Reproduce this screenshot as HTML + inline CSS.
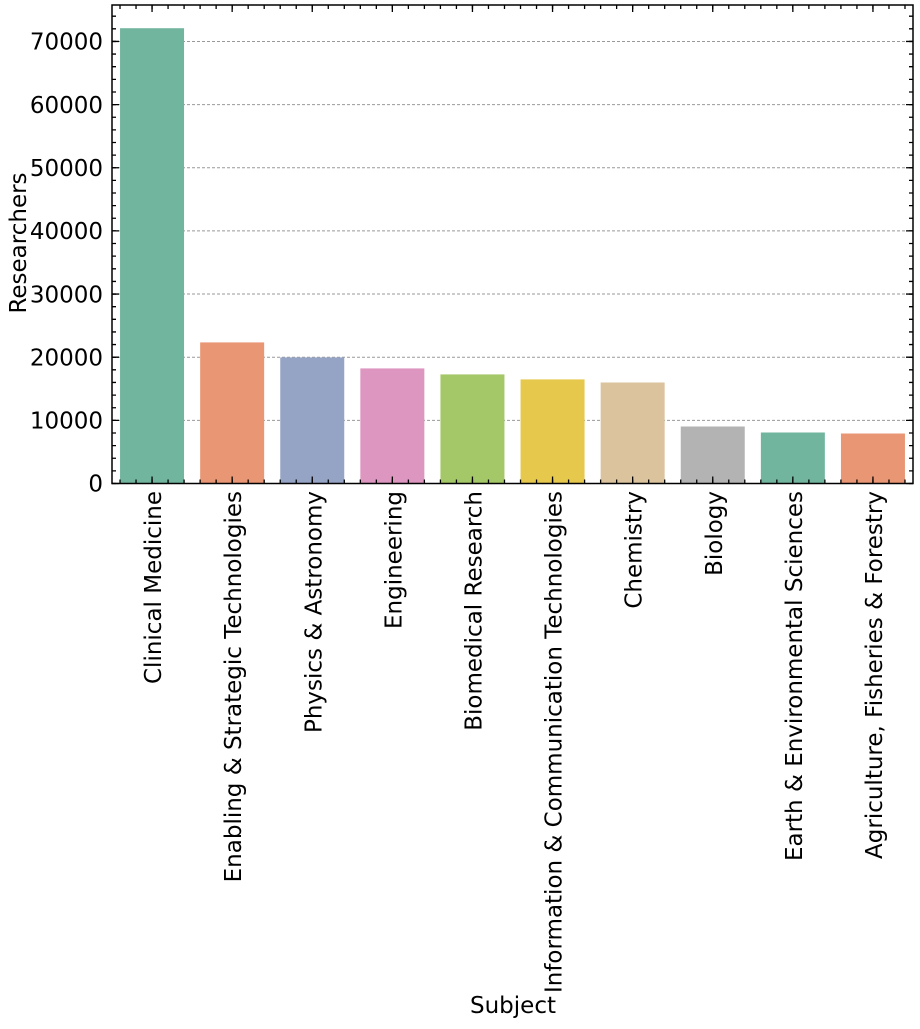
<!DOCTYPE html>
<html><head><meta charset="utf-8"><style>
html,body{margin:0;padding:0;background:#fff;}
svg text{font-family:"DejaVu Sans","Liberation Sans",sans-serif;fill:#000;}
</style></head><body>
<svg width="920" height="1024" viewBox="0 0 920 1024" xmlns="http://www.w3.org/2000/svg">
<g stroke="#999" stroke-width="1" stroke-dasharray="3,2">
<line x1="112" x2="913" y1="420.35" y2="420.35"/>
<line x1="112" x2="913" y1="357.2" y2="357.2"/>
<line x1="112" x2="913" y1="294.05" y2="294.05"/>
<line x1="112" x2="913" y1="230.9" y2="230.9"/>
<line x1="112" x2="913" y1="167.75" y2="167.75"/>
<line x1="112" x2="913" y1="104.6" y2="104.6"/>
<line x1="112" x2="913" y1="41.45" y2="41.45"/>
</g>
<g>
<rect x="120.05" y="28.2" width="64" height="455.3" fill="#72b59e"/>
<rect x="200.15" y="342.4" width="64" height="141.1" fill="#e99675"/>
<rect x="280.25" y="357.4" width="64" height="126.1" fill="#95a4c4"/>
<rect x="360.35" y="368.4" width="64" height="115.1" fill="#dc96c0"/>
<rect x="440.45" y="374.4" width="64" height="109.1" fill="#a4c867"/>
<rect x="520.55" y="379.4" width="64" height="104.1" fill="#e5c84c"/>
<rect x="600.65" y="382.5" width="64" height="101" fill="#dbc39e"/>
<rect x="680.75" y="426.5" width="64" height="57" fill="#b3b3b3"/>
<rect x="760.85" y="432.5" width="64" height="51" fill="#72b59e"/>
<rect x="840.95" y="433.5" width="64" height="50" fill="#e99675"/>
</g>
<g stroke="#000" fill="none">
<rect x="112" y="5" width="801" height="478.5" stroke-width="1.5"/>
<line x1="114" x2="114" y1="484.15" y2="5" stroke-width="4" stroke-dasharray="1.3 11.33"/>
<line x1="115.5" x2="115.5" y1="484.15" y2="5" stroke-width="7" stroke-dasharray="1.3 61.85"/>
<line x1="911" x2="911" y1="484.15" y2="5" stroke-width="4" stroke-dasharray="1.3 11.33"/>
<line x1="909.5" x2="909.5" y1="484.15" y2="5" stroke-width="7" stroke-dasharray="1.3 61.85"/>
<line x1="119.36" x2="913" y1="7" y2="7" stroke-width="4" stroke-dasharray="1.3 14.72"/>
<line x1="151.4" x2="913" y1="8.5" y2="8.5" stroke-width="7" stroke-dasharray="1.3 78.8"/>
<line x1="119.36" x2="913" y1="481.5" y2="481.5" stroke-width="4" stroke-dasharray="1.3 14.72"/>
<line x1="151.4" x2="913" y1="480" y2="480" stroke-width="7" stroke-dasharray="1.3 78.8"/>
</g>
<g font-size="23" text-anchor="end">
<text x="103" y="491.7">0</text>
<text x="103" y="428.55">10000</text>
<text x="103" y="365.4">20000</text>
<text x="103" y="302.25">30000</text>
<text x="103" y="239.1">40000</text>
<text x="103" y="175.95">50000</text>
<text x="103" y="112.8">60000</text>
<text x="103" y="49.65">70000</text>
<text transform="translate(161.05,491) rotate(-90)">Clinical Medicine</text>
<text transform="translate(241.15,491) rotate(-90)">Enabling &amp; Strategic Technologies</text>
<text transform="translate(321.25,491) rotate(-90)">Physics &amp; Astronomy</text>
<text transform="translate(401.35,491) rotate(-90)">Engineering</text>
<text transform="translate(481.45,491) rotate(-90)">Biomedical Research</text>
<text transform="translate(561.55,491) rotate(-90)">Information &amp; Communication Technologies</text>
<text transform="translate(641.65,491) rotate(-90)">Chemistry</text>
<text transform="translate(721.75,491) rotate(-90)">Biology</text>
<text transform="translate(801.85,491) rotate(-90)">Earth &amp; Environmental Sciences</text>
<text transform="translate(881.95,491) rotate(-90)">Agriculture, Fisheries &amp; Forestry</text>
</g>
<text x="513" y="1013" font-size="23" text-anchor="middle">Subject</text>
<text transform="translate(26,243) rotate(-90)" font-size="23" text-anchor="middle">Researchers</text>
</svg>
</body></html>
